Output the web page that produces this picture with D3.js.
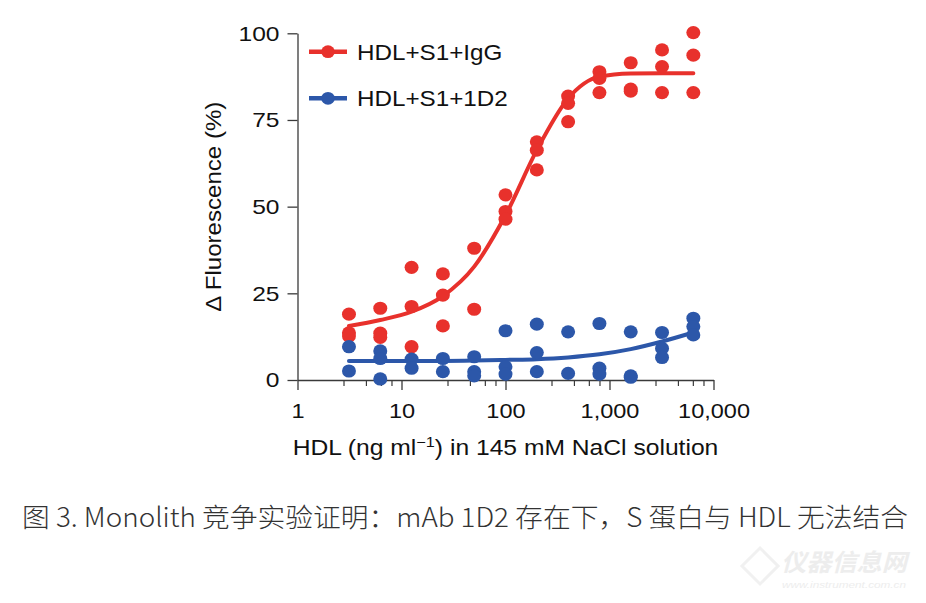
<!DOCTYPE html>
<html>
<head>
<meta charset="utf-8">
<script src="https://cdn.jsdelivr.net/npm/d3@7"></script>
<style>
  html, body { margin: 0; padding: 0; background: #fff; }
  svg { display: block; }
</style>
</head>
<body>
<svg id="chart" width="926" height="603"></svg>
<script>
// ---------- data ----------
const concentrations = [3.125, 6.25, 12.5, 25, 50, 100, 200, 400, 800, 1600, 3200, 6400];

const igGReplicates = [
  [19.0, 13.6, 12.7],
  [20.7, 13.5, 12.3],
  [32.5, 21.2, 9.6],
  [30.6, 24.5, 15.6],
  [38.0, 20.4],
  [53.4, 48.6, 46.4],
  [68.7, 66.3, 60.6],
  [81.9, 79.8, 74.5],
  [88.9, 87.0, 82.9],
  [91.5, 83.9, 83.3],
  [95.2, 90.4, 82.9],
  [100.2, 93.7, 82.9]
];
const d2Replicates = [
  [9.6, 2.6],
  [8.4, 6.2, 0.3],
  [6.0, 3.4],
  [6.2, 2.4],
  [6.7, 2.4, 1.2],
  [14.2, 3.8, 1.7],
  [16.1, 7.9, 2.4],
  [13.9, 1.9],
  [16.3, 3.4, 1.7],
  [13.9, 1.2, 0.8],
  [13.7, 9.1, 6.5],
  [17.8, 15.4, 13.0]
];
const igGFit = [15.6, 17.3, 19.7, 24.2, 32.7, 47.5, 66.3, 81.2, 87.5, 88.4, 88.5, 88.5];
const d2Fit  = [5.5, 5.5, 5.5, 5.5, 5.6, 5.8, 6.0, 6.5, 7.4, 8.9, 11.1, 13.7];

const seriesNames = ["HDL+S1+IgG", "HDL+S1+1D2"];
const seriesColors = ["#e8312c", "#2c57a9"];

const xMajorTicks = [1, 10, 100, 1000, 10000];
const xTickLabels = ["1", "10", "100", "1,000", "10,000"];
const xMinorMultipliers = [2.8, 4.6, 6.4, 8.1];
const yTicks = [0, 25, 50, 75, 100];

const caption = "图 3. Monolith 竞争实验证明：mAb 1D2 存在下，S 蛋白与 HDL 无法结合";

// ---------- helpers ----------
function stretch(sel, f) {
  sel.each(function () {
    const l = this.getComputedTextLength();
    this.setAttribute("textLength", (l * f).toFixed(1));
    this.setAttribute("lengthAdjust", "spacingAndGlyphs");
  });
}

// ---------- layout ----------
const svg = d3.select("#chart");
svg.append("rect").attr("width", 926).attr("height", 603).attr("fill", "#fff");

const x = d3.scaleLog().domain([1, 10000]).range([297.5, 713.5]);
const y = d3.scaleLinear().domain([0, 100]).range([380, 33.3]);
const axisColor = "#3a3a3a";
const fontFam = "'Liberation Sans', Arial, Helvetica, sans-serif";

// y axis
const yAxis = svg.append("g")
  .attr("transform", `translate(${x(1)},0)`)
  .call(d3.axisLeft(y).tickValues(yTicks).tickSize(10).tickSizeOuter(0).tickPadding(8));
yAxis.select(".domain").attr("stroke", axisColor).attr("stroke-width", 1.3);
yAxis.selectAll(".tick line").attr("stroke", axisColor).attr("stroke-width", 1.3);
yAxis.selectAll(".tick text").attr("font-family", fontFam).attr("font-size", 21).attr("fill", "#111");
stretch(yAxis.selectAll(".tick text"), 1.17);

// x axis
const xMinor = [];
[1, 10, 100, 1000].forEach(d => xMinorMultipliers.forEach(m => xMinor.push(d * m)));
const xAxisG = svg.append("g").attr("transform", `translate(0,${y(0)})`);
xAxisG.call(d3.axisBottom(x).tickValues(xMajorTicks).tickSize(10).tickSizeOuter(0).tickPadding(13)
  .tickFormat((d, i) => xTickLabels[i]));
xAxisG.select(".domain").attr("stroke", axisColor).attr("stroke-width", 1.3);
xAxisG.selectAll(".tick line").attr("stroke", axisColor).attr("stroke-width", 1.3);
xAxisG.selectAll(".tick text").attr("font-family", fontFam).attr("font-size", 21).attr("fill", "#111");
stretch(xAxisG.selectAll(".tick text"), 1.12);
xAxisG.selectAll(".minor").data(xMinor).enter().append("line")
  .attr("class", "minor")
  .attr("x1", d => x(d)).attr("x2", d => x(d))
  .attr("y1", 0).attr("y2", 6)
  .attr("stroke", axisColor).attr("stroke-width", 1.2);

// axis titles
svg.append("text")
  .attr("transform", `translate(221,${(y(0) + y(100)) / 2}) rotate(-90)`)
  .attr("text-anchor", "middle")
  .attr("font-family", fontFam).attr("font-size", 22).attr("fill", "#111")
  .attr("textLength", 210).attr("lengthAdjust", "spacingAndGlyphs")
  .text("\u0394 Fluorescence (%)");

const xt = svg.append("text")
  .attr("x", 505.5).attr("y", 455)
  .attr("text-anchor", "middle")
  .attr("font-family", fontFam).attr("font-size", 22).attr("fill", "#111");
xt.append("tspan").text("HDL (ng ml");
xt.append("tspan").attr("font-size", 14.5).attr("dy", -8.5).text("\u22121");
xt.append("tspan").attr("dy", 8.5).text(") in 145 mM NaCl solution");
stretch(xt, 1.12);

// ---------- series ----------
const line = d3.line()
  .x((d, i) => x(concentrations[i]))
  .y(d => y(d))
  .curve(d3.curveMonotoneX);

const allReps = [igGReplicates, d2Replicates];
const allFits = [igGFit, d2Fit];

allReps.forEach((reps, s) => {
  const g = svg.append("g");
  g.append("path").datum(allFits[s])
    .attr("d", line)
    .attr("fill", "none")
    .attr("stroke", seriesColors[s])
    .attr("stroke-width", 4)
    .attr("stroke-linecap", "round");
  const pts = [];
  reps.forEach((arr, i) => arr.forEach(v => pts.push({ c: concentrations[i], v })));
  g.selectAll("ellipse").data(pts).enter().append("ellipse")
    .attr("cx", d => x(d.c))
    .attr("cy", d => y(d.v))
    .attr("rx", 7)
    .attr("ry", 6.6)
    .attr("fill", seriesColors[s]);
});

// ---------- legend ----------
const legend = svg.append("g");
seriesNames.forEach((name, i) => {
  const ly = 51.7 + i * 46.6;
  legend.append("line")
    .attr("x1", 309).attr("x2", 347).attr("y1", ly).attr("y2", ly)
    .attr("stroke", seriesColors[i]).attr("stroke-width", 4.5);
  legend.append("ellipse").attr("cx", 328).attr("cy", ly).attr("rx", 6.8).attr("ry", 6.4)
    .attr("fill", seriesColors[i]);
  const t = legend.append("text")
    .attr("x", 357).attr("y", ly + 7.8)
    .attr("font-family", fontFam).attr("font-size", 22).attr("fill", "#111")
    .text(name);
  stretch(t, 1.1);
});

// ---------- caption ----------
svg.append("text")
  .attr("x", 22).attr("y", 527)
  .attr("font-family", "'Noto Sans CJK SC', 'Noto Sans', sans-serif")
  .attr("font-weight", 300)
  .attr("font-size", 26.5).attr("fill", "#333")
  .attr("textLength", 886).attr("lengthAdjust", "spacingAndGlyphs")
  .text(caption);

// ---------- watermark ----------
const wm = svg.append("g").attr("opacity", 0.9);
wm.append("path")
  .attr("d", "M760,548 L778,566 L760,584 L742,566 Z")
  .attr("fill", "none").attr("stroke", "#efefef").attr("stroke-width", 3);
wm.append("text")
  .attr("x", 781).attr("y", 571)
  .attr("font-family", "'Noto Sans CJK SC', sans-serif")
  .attr("font-weight", 700).attr("font-style", "italic")
  .attr("font-size", 24).attr("fill", "#ececec")
  .attr("textLength", 126).attr("lengthAdjust", "spacingAndGlyphs")
  .text("仪器信息网");
wm.append("text")
  .attr("x", 782).attr("y", 588)
  .attr("font-family", fontFam).attr("font-style", "italic")
  .attr("font-size", 9).attr("fill", "#ececec")
  .attr("textLength", 124).attr("lengthAdjust", "spacingAndGlyphs")
  .text("www.instrument.com.cn");
</script>
</body>
</html>
